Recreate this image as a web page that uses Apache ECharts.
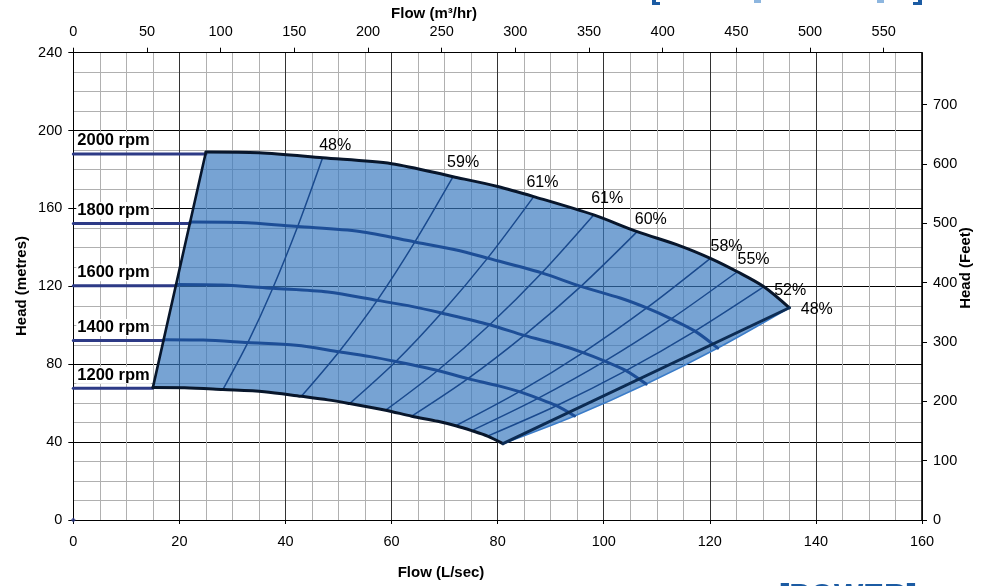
<!DOCTYPE html>
<html><head><meta charset="utf-8">
<script src="https://cdn.jsdelivr.net/npm/echarts@6/dist/echarts.min.js"></script>
<style>html,body{margin:0;padding:0;background:#fff}#c{width:982px;height:586px}</style>
</head><body><div id="c"></div>
<script>
// ---------- data ----------
const rpmNames = ['2000 rpm', '1800 rpm', '1600 rpm', '1400 rpm', '1200 rpm'];
const shutoffHead = [188, 152.3, 120.3, 92.2, 67.7];   // level of the extension lines at zero flow (m)

const rpm2000 = [[25,189],[35,188.6],[47,186],[60,183],[71.6,176.3],[80,171.3],[86.8,166.1],[98.1,156.7],[106.3,148.1],[114.5,140.7],[120.1,134.4],[125.2,127.5],[130.2,119.8],[135,109]];
const rpm1800 = [[22,153],[31.5,152.8],[42.3,150.7],[54,148.2],[64.4,142.8],[72,138.8],[78.1,134.5],[88.3,126.9],[95.7,120],[103.1,114],[108.1,108.9],[112.7,103.3],[117.2,97],[121.5,88.3]];
const rpm1600 = [[19.4,121],[28,120.7],[37.6,119],[48,117.1],[57.3,112.8],[64,109.6],[69.4,106.3],[78.5,100.3],[85,94.8],[91.6,90],[96.1,86],[100.2,81.6],[104.2,76.7],[108,69.8]];
const rpm1400 = [[17,92.6],[24.5,92.4],[32.9,91.1],[42,89.7],[50.1,86.4],[56,83.9],[60.8,81.4],[68.7,76.8],[74.4,72.6],[80.2,68.9],[84.1,65.9],[87.6,62.5],[91.1,58.7],[94.5,53.4]];
const rpm1200 = [[15,68],[21,67.9],[28.2,67],[36,65.9],[43,63.5],[48,61.7],[52.1,59.8],[58.9,56.4],[63.8,53.3],[68.7,50.7],[72.1,48.4],[75.1,45.9],[78.1,43.1],[81,39.2]];

const leftBoundary = [[15,68],[25,189]];
const maxFlowChord = [[81,39.2],[135,109]];

const effNames = ['48%','59%','61%','61%','60%','58%','55%','52%','48%'];
const eff48a = [[28.2,67],[32.9,91.1],[37.6,119],[42.3,150.7],[47,186]];
const eff59  = [[43,63.5],[50.1,86.4],[57.3,112.8],[64.4,142.8],[71.6,176.3]];
const eff61a = [[52.1,59.8],[60.8,81.4],[69.4,106.3],[78.1,134.5],[86.8,166.1]];
const eff61b = [[58.9,56.4],[68.7,76.8],[78.5,100.3],[88.3,126.9],[98.1,156.7]];
const eff60  = [[63.8,53.3],[74.4,72.6],[85,94.8],[95.7,120],[106.3,148.1]];
const eff58  = [[72.1,48.4],[84.1,65.9],[96.1,86],[108.1,108.9],[120.1,134.4]];
const eff55  = [[75.1,45.9],[87.6,62.5],[100.2,81.6],[112.7,103.3],[125.2,127.5]];
const eff52  = [[78.1,43.1],[91.1,58.7],[104.2,76.7],[117.2,97],[130.2,119.8]];
const eff48b = [[81,39.2],[94.5,53.4],[108,69.8],[121.5,88.3],[135,109]];
const effLines = [eff48a, eff59, eff61a, eff61b, eff60, eff58, eff55, eff52, eff48b];

// ---------- layout / style (not data) ----------
const effLabelOffsets = [[12.6,-12.4],[10,-13.7],[8.7,-14.4],[13.5,-16.1],[13.6,-11.9],[16.2,-12],[16.1,-12.5],[26.3,3.6],[27.4,1.9]];
const FONT = '"Liberation Sans", Arial, sans-serif';
const NAVY = '#2d3a86', BLUE = '#1d4e97', DARK = '#08162b', THIN = '#1a4a8e';

const rpmCurves = [rpm2000, rpm1800, rpm1600, rpm1400, rpm1200];
const fillOutline = [leftBoundary[0]].concat(
  rpm2000,
  eff48b.slice().reverse().slice(1),
  rpm1200.slice().reverse().slice(1)
);

function line(data, color, width, z, smooth) {
  return {
    type: 'line', data, xAxisIndex: 0, yAxisIndex: 0,
    showSymbol: false, symbol: 'none',
    smooth: smooth === undefined ? 0.3 : smooth,
    lineStyle: { color, width, cap: 'round', join: 'round' },
    z, silent: true, animation: false
  };
}

const series = [];
// fill of the operating envelope
series.push({
  type: 'custom', coordinateSystem: 'cartesian2d', xAxisIndex: 0, yAxisIndex: 0,
  data: [[0, 0]], encode: { x: 0, y: 1 }, z: 1, silent: true, animation: false,
  renderItem: function (params, api) {
    return {
      type: 'polygon',
      shape: { points: fillOutline.map(p => api.coord(p)), smooth: 0 },
      style: { fill: 'rgba(55,120,190,0.68)', stroke: null }
    };
  }
});
// efficiency curves
effLines.forEach((d, i) => {
  if (i === effLines.length - 1) series.push(line(d, '#3b7cc8', 1.6, 3));
  else series.push(line(d, THIN, 1.5, 3));
});
// extension lines at zero flow
rpmCurves.forEach((c, i) => {
  series.push(line([[0, shutoffHead[i]], [c[0][0], shutoffHead[i]]], NAVY, 3, 4, false));
});
// speed curves
series.push(line(rpm1800, BLUE, 3, 4));
series.push(line(rpm1600, BLUE, 3, 4));
series.push(line(rpm1400, BLUE, 3, 4));
series.push(line(rpm2000, DARK, 3, 5));
series.push(line(rpm1200, DARK, 3, 5));
series.push(line(leftBoundary, DARK, 2.6, 5, false));
series.push(line(maxFlowChord, '#0c2c54', 3, 5, false));
// origin marker
series.push({
  type: 'scatter', data: [[0, 0]], symbol: 'diamond', symbolSize: 5,
  itemStyle: { color: NAVY }, z: 6, silent: true, animation: false
});
const labelBase = { show: true, color: '#000', opacity: 1, textBorderWidth: 0, textShadowBlur: 0, fontFamily: FONT };
// rpm labels
series.push({
  type: 'scatter', symbol: 'circle', symbolSize: 0, itemStyle: { color: '#000' }, z: 10, silent: true, animation: false,
  data: rpmNames.map((n, i) => ({ name: n, value: [0, shutoffHead[i]] })),
  label: Object.assign({}, labelBase, {
    position: 'right', distance: 3, offset: [0, -13],
    formatter: p => p.name, fontSize: 16.5, fontWeight: 'bold',
    backgroundColor: '#fff', padding: [0, 1, 0, 1]
  })
});
// efficiency labels
series.push({
  type: 'scatter', symbol: 'circle', symbolSize: 0, itemStyle: { color: '#000' }, z: 10, silent: true, animation: false,
  data: effLines.map((d, i) => ({
    name: effNames[i], value: d[d.length - 1],
    label: { offset: effLabelOffsets[i] }
  })),
  label: Object.assign({}, labelBase, {
    position: 'inside', align: 'center', verticalAlign: 'middle',
    formatter: p => p.name, fontSize: 16
  })
});

const tickFont = { color: '#000', fontFamily: FONT, fontSize: 14.5 };
const option = {
  backgroundColor: '#fff',
  animation: false,
  grid: { left: 73.3, right: 60, top: 52.7, bottom: 66, containLabel: false },
  xAxis: [
    {
      type: 'value', position: 'bottom', min: 0, max: 160, interval: 20,
      axisLine: { show: true, onZero: false, lineStyle: { color: '#000', width: 1 } },
      axisTick: { show: true, length: 4, lineStyle: { color: '#000' } },
      axisLabel: Object.assign({ margin: 14 }, tickFont),
      splitLine: { show: true, lineStyle: { color: '#333', width: 1 } },
      minorTick: { show: false, splitNumber: 4 },
      minorSplitLine: { show: true, lineStyle: { color: '#b0b0b0', width: 1 } }
    },
    {
      type: 'value', position: 'top', min: 0, max: 576, interval: 50,
      axisLine: { show: true, onZero: false, lineStyle: { color: '#000', width: 1 } },
      axisTick: { show: true, length: 5, lineStyle: { color: '#000' } },
      axisLabel: Object.assign({ margin: 13, showMaxLabel: false }, tickFont),
      splitLine: { show: false }
    }
  ],
  yAxis: [
    {
      type: 'value', position: 'left', min: 0, max: 240, interval: 40,
      axisLine: { show: true, onZero: false, lineStyle: { color: '#000', width: 1 } },
      axisTick: { show: true, length: 5, lineStyle: { color: '#000' } },
      axisLabel: Object.assign({ margin: 11 }, tickFont),
      splitLine: { show: true, lineStyle: { color: '#000', width: 1 } },
      minorTick: { show: false, splitNumber: 4 },
      minorSplitLine: { show: true, lineStyle: { color: '#b0b0b0', width: 1 } }
    },
    {
      type: 'value', position: 'right', min: 0, max: 787.4, interval: 100,
      axisLine: { show: true, onZero: false, lineStyle: { color: '#000', width: 1.6 } },
      axisTick: { show: true, length: 5, lineStyle: { color: '#000' } },
      axisLabel: Object.assign({ margin: 11, showMaxLabel: false }, tickFont),
      splitLine: { show: false }
    }
  ],
  graphic: [
    { type: 'text', x: 441, y: 573, z: 20, style: { text: 'Flow (L/sec)', font: 'bold 15px ' + FONT, fill: '#000', align: 'center', verticalAlign: 'middle' } },
    { type: 'text', x: 434, y: 14, z: 20, style: { text: 'Flow (m³/hr)', font: 'bold 15px ' + FONT, fill: '#000', align: 'center', verticalAlign: 'middle' } },
    { type: 'text', x: 22, y: 286, rotation: Math.PI / 2, z: 20, style: { text: 'Head (metres)', font: 'bold 15px ' + FONT, fill: '#000', align: 'center', verticalAlign: 'middle' } },
    { type: 'text', x: 966, y: 268, rotation: Math.PI / 2, z: 20, style: { text: 'Head (Feet)', font: 'bold 15px ' + FONT, fill: '#000', align: 'center', verticalAlign: 'middle' } },
    // cropped logo fragments
    { type: 'text', x: 779, y: 582, z: 20, style: { text: '[POWER]', font: 'bold 31px ' + FONT, fill: '#1b5ba3', align: 'left', verticalAlign: 'top' } },
    { type: 'rect', shape: { x: 652, y: 0, width: 4, height: 5 }, style: { fill: '#1b5ba3' } },
    { type: 'rect', shape: { x: 652, y: 2, width: 8, height: 3 }, style: { fill: '#1b5ba3' } },
    { type: 'rect', shape: { x: 918, y: 0, width: 4, height: 5 }, style: { fill: '#1b5ba3' } },
    { type: 'rect', shape: { x: 913, y: 2, width: 9, height: 3 }, style: { fill: '#1b5ba3' } },
    { type: 'rect', shape: { x: 754, y: 0, width: 7, height: 3 }, style: { fill: '#8db6df' } },
    { type: 'rect', shape: { x: 877, y: 0, width: 7, height: 3 }, style: { fill: '#8db6df' } }
  ],
  series
};
const chart = echarts.init(document.getElementById('c'));
chart.setOption(option);
</script>
</body></html>
